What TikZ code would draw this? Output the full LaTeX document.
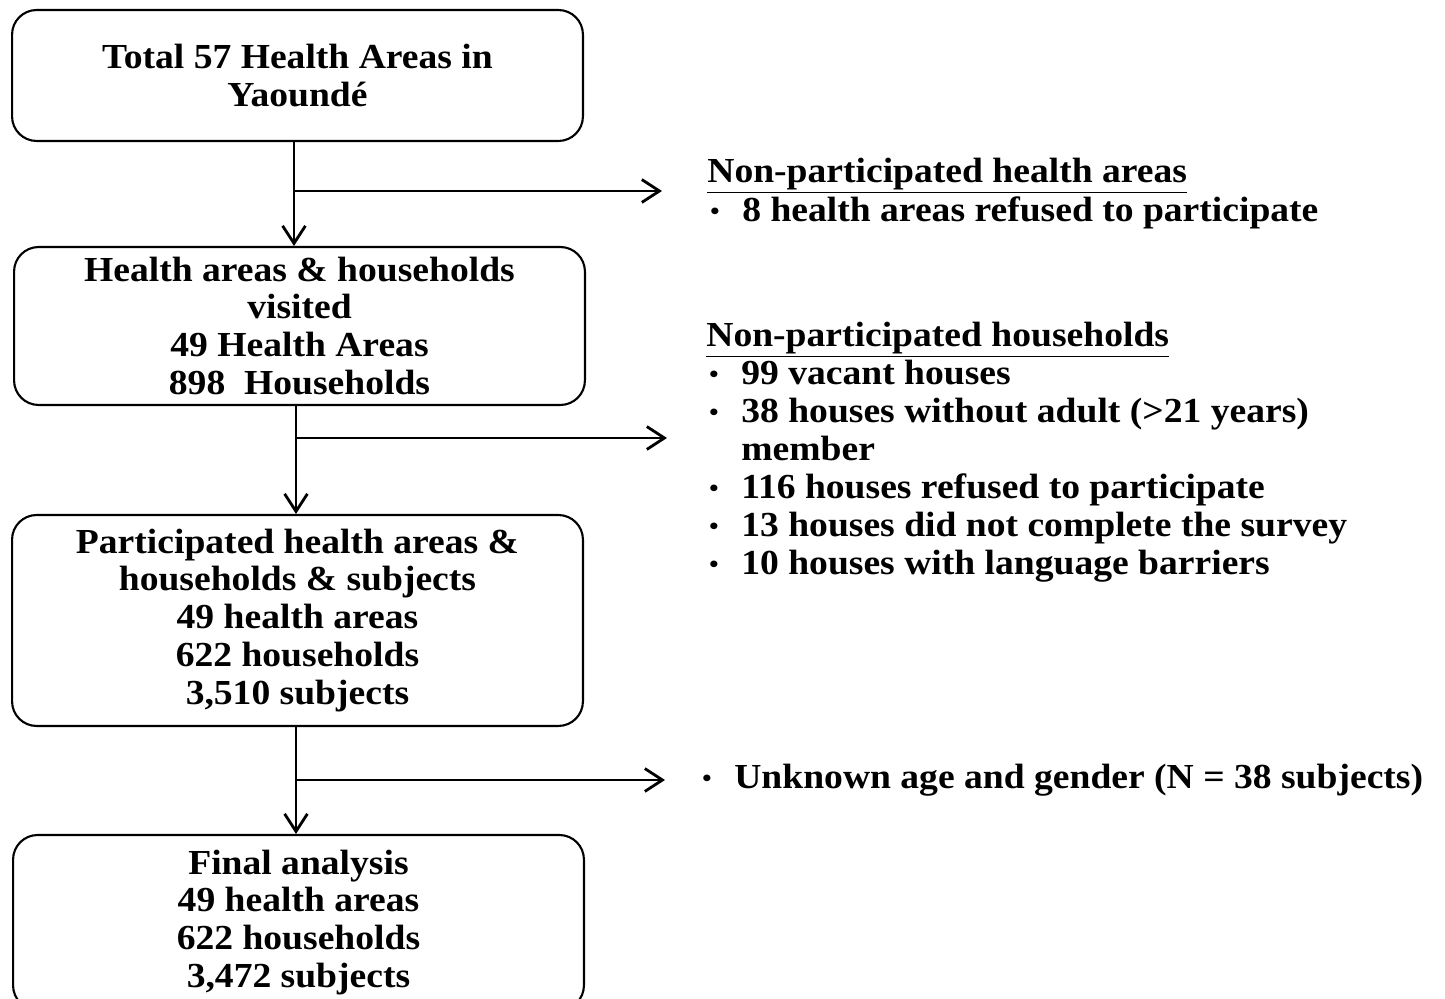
\documentclass[tikz,border=0pt]{standalone}
\usepackage{fontspec}
\setmainfont{Liberation Serif}[FakeStretch=1.07]
\usetikzlibrary{arrows.meta,positioning,calc}

\newcommand{\itm}[1]{\makebox[0.7cm][l]{\hspace{0.06cm}\raisebox{0.06em}{\scalebox{0.7}{\textbullet}}}#1}
\newcommand{\itmgap}{\makebox[0.7cm][l]{}}

\begin{document}
\begin{tikzpicture}[
    x=0.02cm, y=-0.02cm,
    every node/.style={font=\bfseries\fontsize{20}{21.6}\selectfont},
    % flow boxes on the left
    flowbox/.style={
        rectangle,
        draw=black,
        line width=1.2pt,
        rounded corners=14pt,
        align=center,
        minimum width=11.42cm,
        inner sep=0pt
    },
    % excluded lists on the right
    excluded/.style={
        align=left,
        anchor=north west,
        inner sep=0pt
    },
    flowarrow/.style={line width=1.6pt, -{Straight Barb[length=10pt,width=13pt,line width=1.6pt]}}
]

\useasboundingbox (0,0) rectangle (1445,999);

% Main boxes
\node[flowbox, minimum height=2.62cm] (total) at (297.5,75.5) {Total 57 Health Areas in\\Yaoundé};
\node[flowbox, minimum height=3.16cm] (visited) at (299.5,326) {Health areas \& households\\visited\\49 Health Areas\\898~ Households};
\node[flowbox, minimum height=4.22cm] (particip) at (297.5,620.5) {Participated health areas \&\\households \& subjects\\49 health areas\\622 households\\3,510 subjects};
\node[flowbox, minimum height=3.5cm] (final) at (298.5,922.5) {Final analysis\\49 health areas\\622 households\\3,472 subjects};

% Excluded at each step
\node[excluded] (noareas) at (707,158) {\underline{Non-participated health areas}\\[0.02cm]
    \itm{8 health areas refused to participate}};
\node[excluded] (nohouses) at (706,322) {\underline{Non-participated households}\\
    \itm{99 vacant houses}\\
    \itm{38 houses without adult (>21 years)}\\
    \itmgap member\\
    \itm{116 houses refused to participate}\\
    \itm{13 houses did not complete the survey}\\
    \itm{10 houses with language barriers}};
\node[excluded, anchor=base west] (unknown) at (699,789) {\itm{Unknown age and gender (N = 38 subjects)}};

% Arrow ends on the right
\coordinate (e1) at (662,191);
\coordinate (e2) at (667,438);
\coordinate (e3) at (665,780);

% Vertical arrows
\draw[flowarrow] (total.south -| 294,0) -- (visited.north -| 294,0);
\draw[flowarrow] (visited.south -| 296,0) -- (particip.north -| 296,0);
\draw[flowarrow] (particip.south -| 296,0) -- (final.north -| 296,0);

% Side arrows
\draw[flowarrow] (e1 -| 294,0) -- (e1);
\draw[flowarrow] (e2 -| 296,0) -- (e2);
\draw[flowarrow] (e3 -| 296,0) -- (e3);

\end{tikzpicture}
\end{document}
